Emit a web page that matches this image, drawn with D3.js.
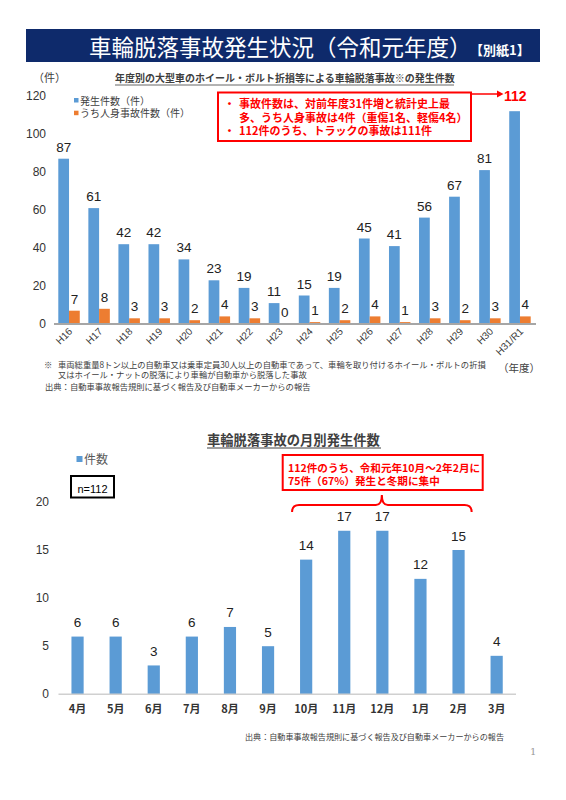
<!DOCTYPE html>
<meta charset="utf-8">
<style>
body {
  margin: 0;
  padding: 0;
  background: #fff;
}
svg text {
  font-family: "Noto Sans CJK JP", sans-serif;
}
.num {
  font-family: "Liberation Sans Narrow", "Liberation Sans", Arial, sans-serif;
}
.red {
  fill: #ff0000;
  font-weight: bold;
}
.note {
  fill: #404040;
}
</style>
<body>
<div id="page"></div>
<script src="https://d3js.org/d3.v7.min.js"></script>
<script>

var years = ['H16', 'H17', 'H18', 'H19', 'H20', 'H21', 'H22', 'H23', 'H24', 'H25', 'H26', 'H27', 'H28', 'H29', 'H30', 'H31/R1'];
var totalCounts = [87, 61, 42, 42, 34, 23, 19, 11, 15, 19, 45, 41, 56, 67, 81, 112];
var injuryCounts = [7, 8, 3, 3, 2, 4, 3, 0, 1, 2, 4, 1, 3, 2, 3, 4];
var yearTicks = [0, 20, 40, 60, 80, 100, 120];

var months = ['4月', '5月', '6月', '7月', '8月', '9月', '10月', '11月', '12月', '1月', '2月', '3月'];
var monthCounts = [6, 6, 3, 6, 7, 5, 14, 17, 17, 12, 15, 4];
var monthTicks = [0, 5, 10, 15, 20];

var blue = '#5b9bd5', orange = '#ed7d31';

var svg = d3.select('#page').append('svg')
  .attr('width', 566)
  .attr('height', 800);

// header band
svg.append('rect')
  .attr('x', 26).attr('y', 29)
  .attr('width', 514).attr('height', 33)
  .attr('fill', '#0e2a6b');
svg.append('text')
  .attr('x', 89).attr('y', 56)
  .attr('fill', '#fff')
  .style('font-size', '22.5px')
  .text('車輪脱落事故発生状況（令和元年度）');
svg.append('text')
  .attr('x', 470).attr('y', 55)
  .attr('fill', '#fff')
  .style('font-size', '13px')
  .style('font-weight', 'bold')
  .text('【別紙1】');

// ---------- yearly chart ----------
var x0 = d3.scaleBand().domain(years).range([54, 535]);
var x1 = d3.scaleBand().domain(['total', 'injury'])
  .range([0, x0.bandwidth()])
  .paddingInner(0).paddingOuter(0.4);
var y = d3.scaleLinear().domain([0, 120]).range([324, 96]);

svg.append('text').attr('class', 'note')
  .attr('x', 33).attr('y', 82)
  .style('font-size', '11px')
  .text('（件）');

svg.append('text').attr('class', 'note')
  .attr('x', 115).attr('y', 82)
  .style('font-size', '10px')
  .style('font-weight', 'bold')
  .text('年度別の大型車のホイール・ボルト折損等による車輪脱落事故※の発生件数');
svg.append('line')
  .attr('x1', 115).attr('x2', 454)
  .attr('y1', 85).attr('y2', 85)
  .attr('stroke', '#404040').attr('stroke-width', 0.8);

svg.append('g').selectAll('text')
  .data(yearTicks)
  .join('text')
  .attr('class', 'num')
  .attr('x', 46)
  .attr('y', function (d) { return y(d) + 4; })
  .attr('text-anchor', 'end')
  .attr('fill', '#333')
  .style('font-size', '12px')
  .text(function (d) { return d; });

var groups = svg.append('g').selectAll('g')
  .data(years.map(function (yr, i) {
    return {year: yr, total: totalCounts[i], injury: injuryCounts[i]};
  }))
  .join('g')
  .attr('transform', function (d) { return 'translate(' + x0(d.year) + ',0)'; });

['total', 'injury'].forEach(function (key) {
  groups.append('rect')
    .attr('x', x1(key))
    .attr('y', function (d) { return y(d[key]); })
    .attr('width', x1.bandwidth())
    .attr('height', function (d) { return y(0) - y(d[key]); })
    .attr('fill', key === 'total' ? blue : orange);
  groups.filter(function (d) { return !(key === 'total' && d.year === 'H31/R1'); })
    .append('text')
    .attr('class', 'num')
    .attr('x', x1(key) + x1.bandwidth() / 2)
    .attr('y', function (d) { return y(d[key]) - 7; })
    .attr('text-anchor', 'middle')
    .attr('fill', '#222')
    .style('font-size', '13.5px')
    .text(function (d) { return d[key]; });
});

svg.append('line')
  .attr('x1', 54).attr('x2', 536)
  .attr('y1', y(0)).attr('y2', y(0))
  .attr('stroke', '#a6a6a6').attr('stroke-width', 2);

groups.append('text')
  .attr('class', 'num')
  .attr('text-anchor', 'end')
  .attr('fill', '#404040')
  .style('font-size', '10px')
  .attr('transform', function (d) {
    return 'translate(' + (x0.bandwidth() / 2 + 4) + ',332) rotate(-45)';
  })
  .text(function (d) { return d.year; });

// legend
var legend = [['発生件数（件）', blue], ['うち人身事故件数（件）', orange]];
legend.forEach(function (l, i) {
  svg.append('rect')
    .attr('x', 74).attr('y', 98 + i * 12.7)
    .attr('width', 4.5).attr('height', 4.5)
    .attr('fill', l[1]);
  svg.append('text').attr('class', 'note')
    .attr('x', 80).attr('y', 104.5 + i * 12.7)
    .style('font-size', '10px')
    .text(l[0]);
});

// red callout
svg.append('rect')
  .attr('x', 218).attr('y', 92.5)
  .attr('width', 253).attr('height', 48.5)
  .attr('fill', '#fff')
  .attr('stroke', '#ff0000').attr('stroke-width', 2);
var callout = [
  ['・', '事故件数は、対前年度31件増と統計史上最'],
  ['', '多、うち人身事故は4件（重傷1名、軽傷4名）'],
  ['・', '112件のうち、トラックの事故は111件']
];
callout.forEach(function (c, i) {
  svg.append('text').attr('class', 'red')
    .attr('x', 224).attr('y', 108 + i * 13.5)
    .style('font-size', '11px')
    .text(c[0]);
  svg.append('text').attr('class', 'red')
    .attr('x', 239).attr('y', 108 + i * 13.5)
    .style('font-size', '11px')
    .text(c[1]);
});
svg.append('line')
  .attr('x1', 471).attr('x2', 498)
  .attr('y1', 94).attr('y2', 94)
  .attr('stroke', '#ff0000').attr('stroke-width', 1.5);
svg.append('path')
  .attr('d', 'M497,90.5L503.5,94L497,97.5Z')
  .attr('fill', '#ff0000');
svg.append('text').attr('class', 'red num')
  .attr('x', 504).attr('y', 100.5)
  .style('font-size', '14px')
  .text(totalCounts[totalCounts.length - 1]);

// footnotes
svg.append('text').attr('class', 'note')
  .attr('x', 44).attr('y', 368)
  .style('font-size', '8.3px')
  .text('※');
svg.append('text').attr('class', 'note')
  .attr('x', 58).attr('y', 368)
  .style('font-size', '8.3px')
  .text('車両総重量8トン以上の自動車又は乗車定員30人以上の自動車であって、車輪を取り付けるホイール・ボルトの折損');
svg.append('text').attr('class', 'note')
  .attr('x', 58).attr('y', 378)
  .style('font-size', '8.3px')
  .text('又はホイール・ナットの脱落により車輪が自動車から脱落した事故');
svg.append('text').attr('class', 'note')
  .attr('x', 498).attr('y', 372)
  .style('font-size', '10.5px')
  .text('（年度）');
svg.append('text').attr('class', 'note')
  .attr('x', 45).attr('y', 390)
  .style('font-size', '8.3px')
  .text('出典：自動車事故報告規則に基づく報告及び自動車メーカーからの報告');

// ---------- monthly chart ----------
var xm = d3.scaleBand().domain(months).range([58.5, 515.7])
  .paddingInner(0.68).paddingOuter(0.34);
var ym = d3.scaleLinear().domain([0, 20]).range([694.3, 501.9]);

svg.append('text').attr('class', 'note')
  .attr('x', 207).attr('y', 445)
  .style('font-size', '13.3px')
  .style('font-weight', 'bold')
  .text('車輪脱落事故の月別発生件数');
svg.append('line')
  .attr('x1', 207).attr('x2', 381)
  .attr('y1', 448).attr('y2', 448)
  .attr('stroke', '#404040').attr('stroke-width', 1);

svg.append('rect')
  .attr('x', 76.5).attr('y', 456)
  .attr('width', 6).attr('height', 6)
  .attr('fill', blue);
svg.append('text')
  .attr('x', 84).attr('y', 463.5)
  .attr('fill', '#595959')
  .style('font-size', '12px')
  .text('件数');

svg.append('rect')
  .attr('x', 71).attr('y', 476)
  .attr('width', 43).attr('height', 21.5)
  .attr('fill', 'none')
  .attr('stroke', '#000').attr('stroke-width', 2);
svg.append('text')
  .attr('class', 'num')
  .attr('x', 92.5).attr('y', 492.5)
  .attr('text-anchor', 'middle')
  .attr('fill', '#000')
  .style('font-size', '11px')
  .text('n=' + d3.sum(monthCounts));

svg.append('g').selectAll('text')
  .data(monthTicks)
  .join('text')
  .attr('class', 'num')
  .attr('x', 49)
  .attr('y', function (d) { return ym(d) + 4; })
  .attr('text-anchor', 'end')
  .attr('fill', '#333')
  .style('font-size', '12px')
  .text(function (d) { return d; });

var mData = months.map(function (m, i) { return {month: m, value: monthCounts[i]}; });

svg.append('g').selectAll('rect')
  .data(mData)
  .join('rect')
  .attr('x', function (d) { return xm(d.month); })
  .attr('y', function (d) { return ym(d.value); })
  .attr('width', xm.bandwidth())
  .attr('height', function (d) { return ym(0) - ym(d.value); })
  .attr('fill', blue);

svg.append('g').selectAll('text')
  .data(mData)
  .join('text')
  .attr('class', 'num')
  .attr('x', function (d) { return xm(d.month) + xm.bandwidth() / 2; })
  .attr('y', function (d) { return ym(d.value) - 9.5; })
  .attr('text-anchor', 'middle')
  .attr('fill', '#222')
  .style('font-size', '13.5px')
  .text(function (d) { return d.value; });

svg.append('line')
  .attr('x1', 58.5).attr('x2', 516)
  .attr('y1', ym(0)).attr('y2', ym(0))
  .attr('stroke', '#d0d0d0').attr('stroke-width', 1.5);

svg.append('g').selectAll('text')
  .data(months)
  .join('text')
  .attr('x', function (d) { return xm(d) + xm.bandwidth() / 2; })
  .attr('y', 713)
  .attr('text-anchor', 'middle')
  .attr('fill', '#333')
  .style('font-size', '11px')
  .style('font-weight', 'bold')
  .text(function (d) { return d; });

// winter callout
svg.append('rect')
  .attr('x', 282.7).attr('y', 455)
  .attr('width', 200).attr('height', 35)
  .attr('fill', '#fff')
  .attr('stroke', '#ff0000').attr('stroke-width', 2);
svg.append('text').attr('class', 'red')
  .attr('x', 288).attr('y', 472)
  .style('font-size', '10.6px')
  .text('112件のうち、令和元年10月～2年2月に');
svg.append('text').attr('class', 'red')
  .attr('x', 288).attr('y', 484.5)
  .style('font-size', '10.6px')
  .text('75件（67%）発生と冬期に集中');

var bx0 = xm('10月') - 8, bx1 = xm('2月') + xm.bandwidth() + 7, bmid = (bx0 + bx1) / 2;
svg.append('path')
  .attr('d', 'M' + bx0 + ',512Q' + bx0 + ',505 ' + (bx0 + 7) + ',505L' + (bmid - 6) + ',505Q'
    + bmid + ',505 ' + bmid + ',495Q' + bmid + ',505 ' + (bmid + 6) + ',505L' + (bx1 - 7) + ',505Q'
    + bx1 + ',505 ' + bx1 + ',512')
  .attr('fill', 'none')
  .attr('stroke', '#ff0000').attr('stroke-width', 2);

svg.append('text').attr('class', 'note')
  .attr('x', 504).attr('y', 740)
  .attr('text-anchor', 'end')
  .style('font-size', '8.1px')
  .text('出典：自動車事故報告規則に基づく報告及び自動車メーカーからの報告');

svg.append('text')
  .attr('x', 530).attr('y', 755)
  .attr('fill', '#999')
  .style('font-family', '"DejaVu Serif", serif')
  .style('font-size', '10px')
  .text('1');

</script>
